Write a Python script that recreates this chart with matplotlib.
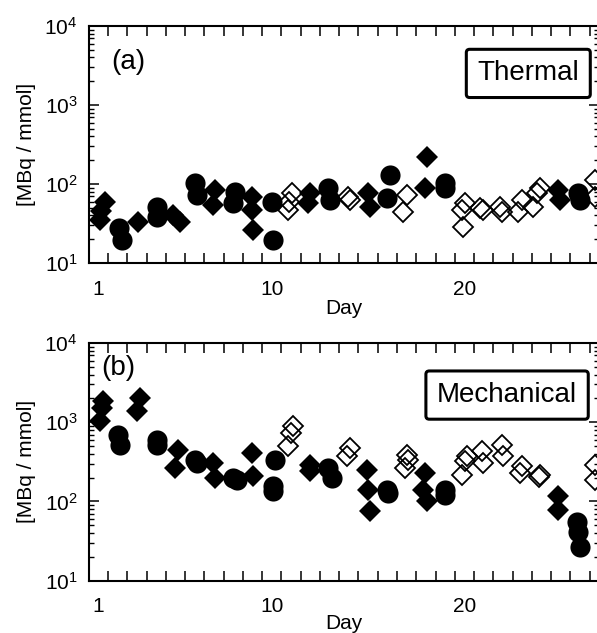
import matplotlib
matplotlib.use("Agg")
import matplotlib.pyplot as plt
from matplotlib.ticker import FixedLocator, LogLocator, NullFormatter, FixedFormatter

plt.rcParams['font.family'] = ['Liberation Sans', 'DejaVu Sans']
plt.rcParams['mathtext.fontset'] = 'custom'
plt.rcParams['mathtext.rm'] = 'Liberation Sans'
plt.rcParams['mathtext.it'] = 'Liberation Sans'

# ---- panel (a) Thermal ----
a_fd_day = [1.35, 1.14, 1.09, 3.08, 4.88, 5.24, 7.06, 6.97, 8.96, 8.96, 9.04,
            11.99, 11.9, 15.0, 15.1, 18.04, 17.95, 24.87, 24.96]
a_fd_val = [59.7, 45.5, 35.0, 33.4, 40.5, 33.0, 84, 54, 69, 46.9, 26.2,
            76, 57, 76, 51.7, 222, 88, 84, 62.7]

a_fc_day = [2.09, 2.21, 4.03, 4.03, 6.02, 6.11, 8.09, 8.01, 10.0, 10.08,
            12.94, 13.02, 16.14, 15.97, 18.99, 19.0, 25.9, 26.0]
a_fc_val = [27.5, 19.5, 51.7, 38.5, 102, 72.6, 80, 57, 59.7, 19.5,
            88, 62.7, 130, 66, 102, 89, 78, 63]

a_od_day = [11.04, 10.91, 10.86, 13.97, 14.06, 17.0, 16.83, 19.86, 20.03, 19.94,
            20.81, 20.98, 21.85, 21.93, 22.8, 22.97, 23.57, 23.92, 23.77, 26.77, 26.77]
a_od_val = [76, 59.7, 46.9, 69, 62.7, 72.6, 44.6, 46.9, 57, 28.8,
            49, 47, 51.7, 44.6, 44.6, 62.7, 51.7, 88, 77, 112, 69]

# ---- panel (b) Mechanical ----
b_fd_day = [1.26, 1.18, 1.09, 3.16, 2.99, 5.15, 4.98, 6.97, 7.06, 8.96, 9.04,
            11.99, 11.99, 14.93, 15.01, 15.1, 17.95, 17.86, 18.04, 24.87, 24.87]
b_fd_val = [1845, 1520, 1030, 2040, 1380, 451, 265, 306, 198, 410, 207,
            292, 240, 252, 141, 75, 229, 141, 100, 116, 78.5]

b_fc_day = [2.04, 2.13, 4.03, 4.03, 6.02, 6.11, 8.01, 8.18, 10.19, 10.08, 10.08,
            12.94, 13.11, 15.97, 16.05, 18.99, 18.99, 25.83, 25.9, 25.99]
b_fc_val = [698, 522, 604, 522, 337, 306, 198, 188, 337, 155, 134,
            265, 198, 141, 128, 141, 121, 55.8, 41.7, 26.9]

b_od_day = [11.12, 10.98, 10.86, 14.06, 13.89, 17.0, 16.92, 17.09, 19.86, 20.03, 20.12,
            20.9, 20.98, 21.93, 22.02, 22.97, 22.88, 23.92, 23.85, 26.77, 26.77]
b_od_val = [889, 734, 497, 474, 371, 390, 265, 337, 218, 321, 371,
            430, 306, 522, 371, 277, 229, 218, 205, 292, 188]

day_ticks = [1, 10, 20]
day_labels = ['1', '10', '20']
panels = [
    ('(a)', 'Thermal', a_fd_day, a_fd_val, a_fc_day, a_fc_val, a_od_day, a_od_val),
    ('(b)', 'Mechanical', b_fd_day, b_fd_val, b_fc_day, b_fc_val, b_od_day, b_od_val),
]

fig = plt.figure(figsize=(5.97, 6.33), dpi=100)
rects = [[0.1486, 0.5845, 0.854, 0.3744], [0.1486, 0.0826, 0.854, 0.3755]]
tag_pos = [(0.045, 0.848), (0.025, 0.895)]
box_pos = [(0.962, 0.80), (0.958, 0.781)]
xlabelpad = [0, -2]

for i, (tag, name, fdx, fdy, fcx, fcy, odx, ody) in enumerate(panels):
    ax = fig.add_axes(rects[i])
    ax.plot(fdx, fdy, 'D', color='black', ms=11.5, mew=0, linestyle='none')
    ax.plot(fcx, fcy, 'o', color='black', ms=14.5, mew=0, linestyle='none')
    ax.plot(odx, ody, 'D', mec='black', mfc='none', ms=10.5, mew=1.3, linestyle='none')
    ax.set_yscale('log')
    ax.set_ylim(10, 1e4)
    ax.set_xlim(0.5, 26.96)
    ax.xaxis.set_major_locator(FixedLocator(day_ticks))
    ax.xaxis.set_major_formatter(FixedFormatter(day_labels))
    ax.xaxis.set_minor_locator(FixedLocator([k + 0.5 for k in range(0, 30)]))
    ax.yaxis.set_minor_locator(LogLocator(base=10, subs=range(2, 10)))
    ax.yaxis.set_minor_formatter(NullFormatter())
    ax.tick_params(axis='x', which='major', length=0, pad=12, labelsize=15)
    ax.tick_params(axis='x', which='minor', direction='in', length=7, width=1.1,
                   top=True, bottom=True)
    ax.tick_params(axis='y', which='major', direction='in', length=7, width=1.1,
                   left=True, right=True, labelsize=15, pad=8)
    ax.tick_params(axis='y', which='minor', direction='in', length=3.5, width=1.0,
                   left=True, right=True)
    for s in ax.spines.values():
        s.set_linewidth(1.5)
    ax.set_xlabel('Day', fontsize=15, labelpad=xlabelpad[i])
    ax.set_ylabel('[MBq / mmol]', fontsize=15, labelpad=6)
    ax.text(tag_pos[i][0], tag_pos[i][1], tag, transform=ax.transAxes,
            fontsize=20, ha='left', va='center')
    ax.text(box_pos[i][0], box_pos[i][1], name, transform=ax.transAxes,
            fontsize=20, ha='right', va='center', zorder=5,
            bbox=dict(boxstyle='round,pad=0.4,rounding_size=0.12', fc='white',
                      ec='black', lw=2.2))

fig.savefig('out.png', dpi=100)
